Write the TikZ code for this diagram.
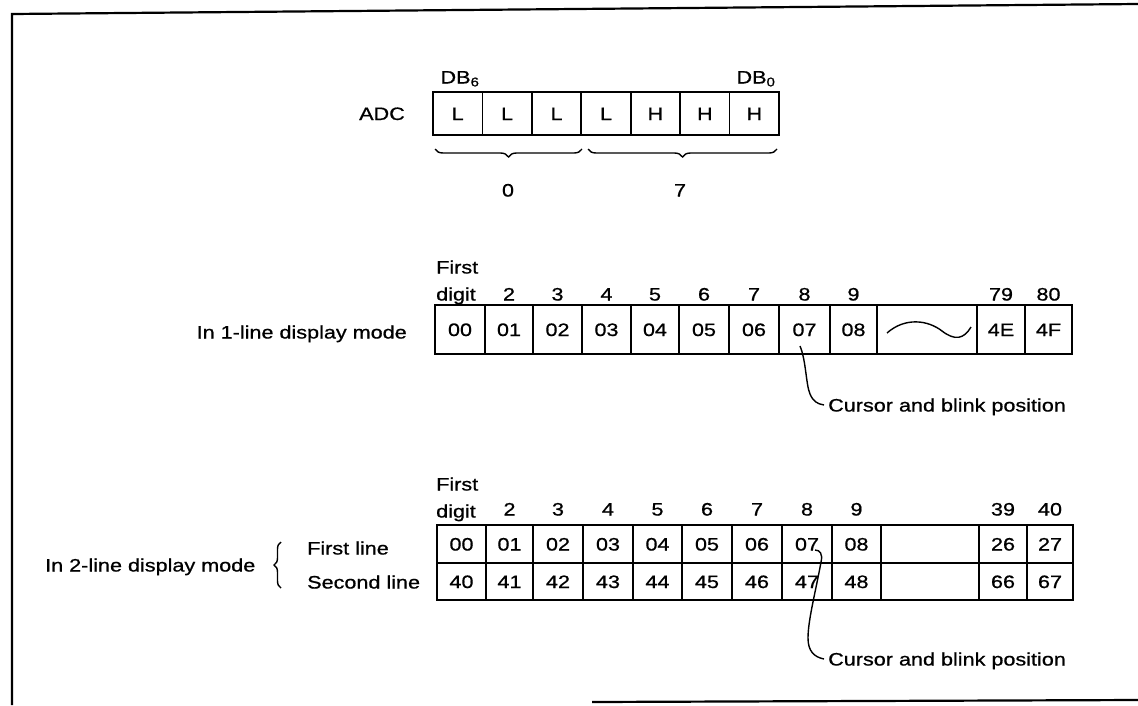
\documentclass[tikz,border=0pt]{standalone}
\usepackage{fontspec}
\setmainfont{Liberation Sans}[FakeStretch=1.2,FakeBold=0.8]
\usetikzlibrary{decorations.pathreplacing,calc}
\begin{document}
\begin{tikzpicture}[x=1pt,y=-1pt,
  txt/.style={inner sep=0pt,text height=13pt,text depth=0pt,font=\fontsize{18}{20}\selectfont},
  cell/.style={txt,draw,line width=1.7pt,anchor=center},
  conn/.style={line width=1.4pt},
  frameline/.style={line width=2.2pt},
  bracedown/.style={decorate,decoration={brace,mirror,amplitude=8pt,aspect=0.5},line width=1.4pt},
  braceleft/.style={decorate,decoration={brace,amplitude=7pt,aspect=0.5},line width=1.4pt}]
\useasboundingbox (0,0) rectangle (1138,705);
% frame
\draw[frameline] (12,705) -- (12,14) -- (1138,4);
\draw[frameline] (592,702) -- (1138,700);
% ADC row
\node[txt] (adc) at (382,113.5) {ADC};
\foreach \t [count=\i] in {L,L,L,L,H,H,H}
  \node[cell,minimum width=49.43pt,minimum height=43pt] (adc\i) at ({433+49.43*(\i-0.5)},113.5) {\t};
\node[txt] (db6) at (460,77) {DB\textsubscript{6}};
\node[txt] (db0) at (756,77) {DB\textsubscript{0}};
\draw[bracedown] (435,149) -- (582,149);
\draw[bracedown] (588,149) -- (777,149);
\node[txt] (val0) at (508,190) {0};
\node[txt] (val7) at (680,190) {7};
% 1-line mode
\node[txt,anchor=east] (mode1) at (407,332) {In 1-line display mode};
\foreach \a/\b/\t [count=\i] in {435/485/00,485/533/01,533/582/02,582/631/03,631/679/04,679/729/05,729/779/06,779/830/07,830/877/08,877/977/{},977/1025/4E,1025/1072/4F}
  \node[cell,minimum width={(\b-\a)*1pt},minimum height=49pt] (ta\i) at ({(\a+\b)/2},329.5) {\t};
\draw[line width=1.4pt] (887,333) .. controls (905,317) and (928,320) .. (942,331) .. controls (955,341) and (964,339) .. (971,327);
\node[txt,anchor=west] (first1) at (436,267) {First};
\node[txt,anchor=west] (digit1) at (436,294) {digit};
\coordinate (hya) at (0,294);
\foreach \i/\t in {2/2,3/3,4/4,5/5,6/6,7/7,8/8,9/9,11/79,12/80}
  \node[txt] (ha\i) at (ta\i |- hya) {\t};
\node[txt,anchor=west] (ctext1) at (828,405) {Cursor and blink position};
\coordinate (cur1) at (800,346);
\draw[conn] (cur1) .. controls (806,360) and (806,385) .. (810,394) .. controls (813,401) and (817,404) .. ([xshift=-4pt]ctext1.west);
% 2-line mode
\node[txt,anchor=west] (mode2) at (45,565) {In 2-line display mode};
\draw[braceleft] (281,588) -- (281,542);
\node[txt,anchor=west] (line1) at (307,548) {First line};
\node[txt,anchor=west] (line2) at (307,582) {Second line};
\foreach \a/\b/\t/\u [count=\i] in {437/486/00/40,486/533/01/41,533/583/02/42,583/633/03/43,633/682/04/44,682/732/05/45,732/782/06/46,782/832/07/47,832/881/08/48,881/979/{}/{},979/1027/26/66,1027/1073/27/67}
{
  \node[cell,minimum width={(\b-\a)*1pt},minimum height=38pt] (tb\i) at ({(\a+\b)/2},544) {\t};
  \node[cell,minimum width={(\b-\a)*1pt},minimum height=37pt] (tc\i) at ({(\a+\b)/2},581.5) {\u};
}
\node[txt,anchor=west] (first2) at (436,484) {First};
\node[txt,anchor=west] (digit2) at (436,511) {digit};
\coordinate (hyb) at (0,509);
\foreach \i/\t in {2/2,3/3,4/4,5/5,6/6,7/7,8/8,9/9,11/39,12/40}
  \node[txt] (hb\i) at (tb\i |- hyb) {\t};
\node[txt,anchor=west] (ctext2) at (828,659) {Cursor and blink position};
\coordinate (cur2) at (815,550);
\draw[conn] (cur2) .. controls (820,550) and (823,554) .. (821,562) .. controls (816,590) and (808,620) .. (808,638) .. controls (808,651) and (814,657) .. ([xshift=-4pt]ctext2.west);
\end{tikzpicture}
\end{document}
